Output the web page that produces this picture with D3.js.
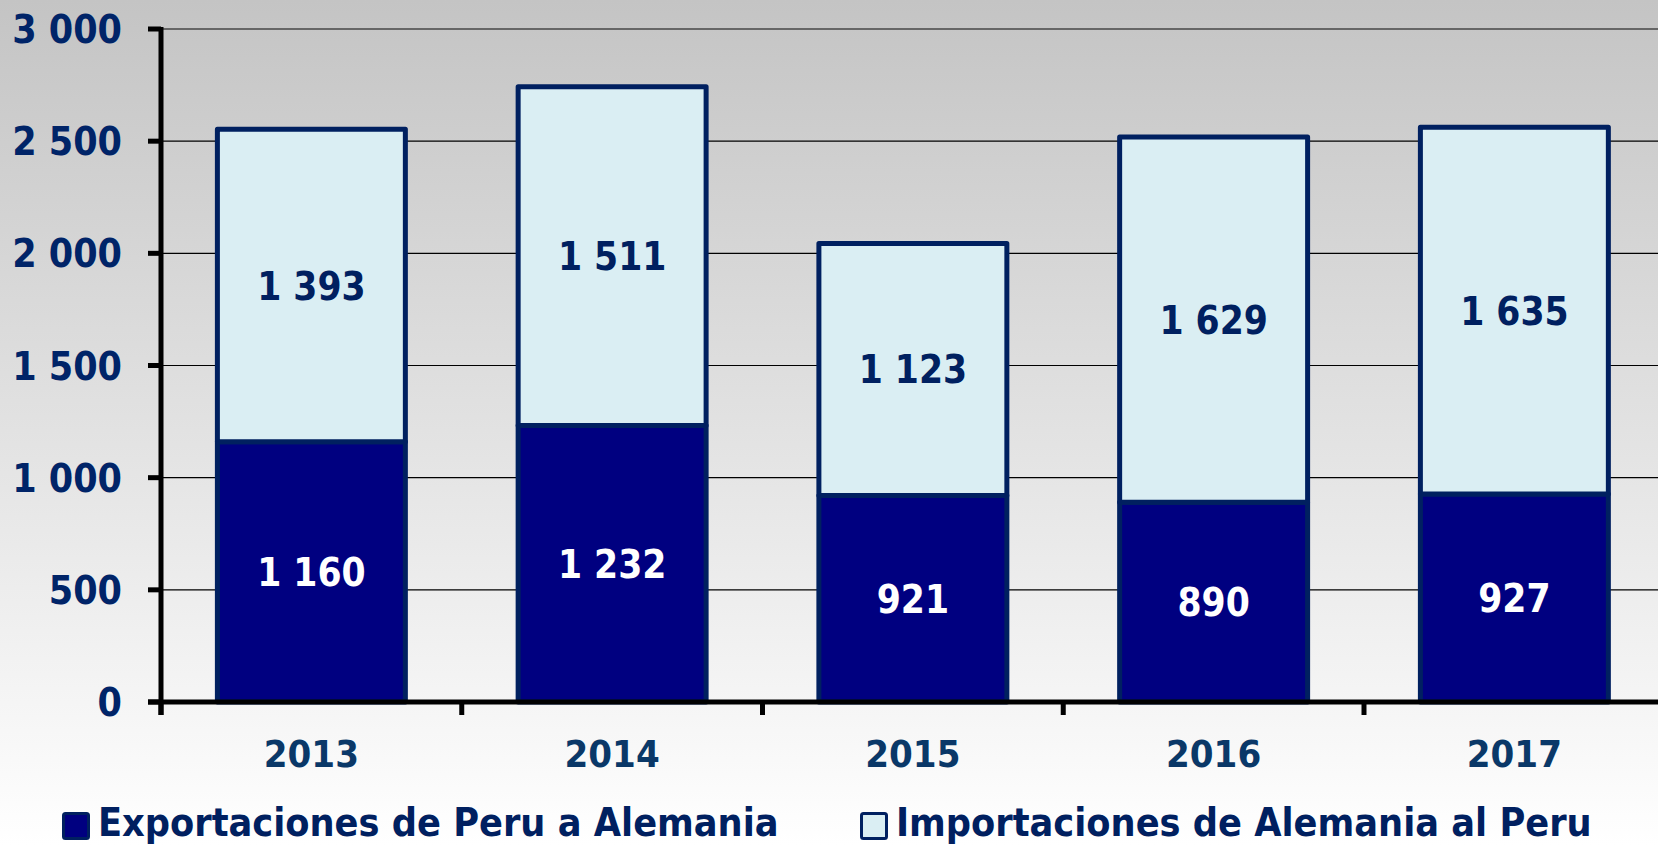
<!DOCTYPE html>
<html><head><meta charset="utf-8">
<script src="https://cdn.jsdelivr.net/npm/d3@7"></script>
<style>
html,body{margin:0;padding:0;overflow:hidden;}
svg{display:block;}
text{font-family:"DejaVu Sans Condensed","DejaVu Sans",sans-serif;font-weight:bold;}
</style></head>
<body>
<svg id="c" width="1658" height="846"></svg>
<script>
const years = ["2013","2014","2015","2016","2017"];
const exportsPE = [1160,1232,921,890,927];
const importsDE = [1393,1511,1123,1629,1635];
const yTicks = [0,500,1000,1500,2000,2500,3000];
const seriesNames = ["Exportaciones de Peru a Alemania","Importaciones de Alemania al Peru"];
const fmt = v => d3.format(",")(v).replace(/,/g," ");

const W=1658,H=846;
const svg=d3.select("#c");
const defs=svg.append("defs");
const g=defs.append("linearGradient").attr("id","bg").attr("x1",0).attr("y1",0).attr("x2",0).attr("y2",1);
g.append("stop").attr("offset","0%").attr("stop-color","#c4c4c4");
g.append("stop").attr("offset","100%").attr("stop-color","#ffffff");
svg.append("rect").attr("width",W).attr("height",H).attr("fill","url(#bg)");

const x0=161,x1=1664.75,yTop=29,yBase=702;
const x=d3.scaleBand().domain(years).range([x0,x1]).paddingInner(0.375).paddingOuter(0.1875);
const y=d3.scaleLinear().domain([0,3000]).range([yBase,yTop]);

// gridlines
svg.append("g").selectAll("line").data(yTicks.filter(d=>d>0)).join("line")
  .attr("x1",x0).attr("x2",W).attr("y1",d=>y(d)).attr("y2",d=>y(d))
  .attr("stroke",d=>d===3000?"#666":"#000").attr("stroke-width",d=>d===3000?2:1.2);

// stacked data
const rows=years.map((yr,i)=>({year:yr,exp:exportsPE[i],imp:importsDE[i]}));
const stack=d3.stack().keys(["exp","imp"])(rows);
const fills=["#000080","#daeef3"];
const labelCols=["#ffffff","#002060"];
stack.forEach((s,si)=>{
  svg.append("g").selectAll("rect").data(s).join("rect")
    .attr("x",d=>x(d.data.year)).attr("width",x.bandwidth())
    .attr("y",d=>y(d[1])).attr("height",d=>y(d[0])-y(d[1]))
    .attr("fill",fills[si]).attr("stroke","#002060").attr("stroke-width",5)
    .attr("stroke-linejoin","round");
});
stack.forEach((s,si)=>{
  svg.append("g").selectAll("text").data(s).join("text")
    .attr("x",d=>x(d.data.year)+x.bandwidth()/2)
    .attr("y",d=>(y(d[0])+y(d[1]))/2+14)
    .attr("text-anchor","middle").attr("font-size",38.5)
    .attr("fill",labelCols[si]).text(d=>fmt(d[1]-d[0]));
});

// axes
const ax=svg.append("g");
ax.append("line").attr("x1",x0).attr("x2",x0).attr("y1",yTop-2).attr("y2",yBase+13).attr("stroke","#000").attr("stroke-width",5);
ax.append("line").attr("x1",148).attr("x2",W).attr("y1",yBase).attr("y2",yBase).attr("stroke","#000").attr("stroke-width",5);
ax.selectAll(".yt").data(yTicks).join("line").attr("class","yt")
  .attr("x1",148).attr("x2",x0).attr("y1",d=>y(d)).attr("y2",d=>y(d)).attr("stroke","#000").attr("stroke-width",5);
const step=x.step();
const bounds=d3.range(years.length).map(i=>x0+i*step);
ax.selectAll(".xt").data(bounds).join("line").attr("class","xt")
  .attr("x1",d=>d).attr("x2",d=>d).attr("y1",yBase).attr("y2",yBase+13).attr("stroke","#000").attr("stroke-width",5);
ax.selectAll(".yl").data(yTicks).join("text").attr("class","yl")
  .attr("x",122).attr("y",d=>y(d)+14).attr("text-anchor","end").attr("font-size",39)
  .attr("fill","#002468").text(d=>fmt(d));
ax.selectAll(".xl").data(years).join("text").attr("class","xl")
  .attr("x",d=>x(d)+x.bandwidth()/2).attr("y",767).attr("text-anchor","middle").attr("font-size",38)
  .attr("fill","#0a3868").text(d=>d);

// legend
const legX=[62,860];
const lg=svg.append("g");
seriesNames.forEach((n,i)=>{
  lg.append("rect").attr("x",legX[i]+1.5).attr("y",813.5).attr("width",25).attr("height",25)
    .attr("fill",fills[i]).attr("stroke","#002060").attr("stroke-width",3).attr("rx",2);
  lg.append("text").attr("x",legX[i]+36).attr("y",836).attr("font-size",39.2)
    .attr("fill","#002060").text(n);
});
</script>
</body></html>
